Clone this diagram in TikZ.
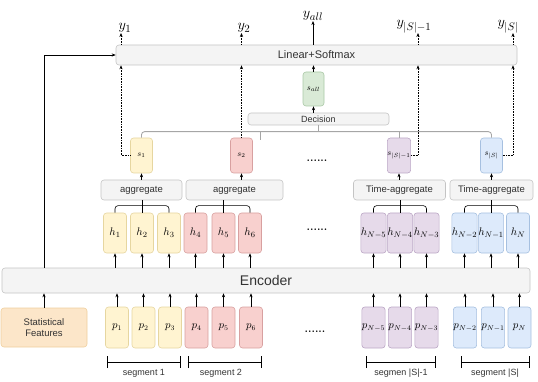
\documentclass[tikz,border=0pt]{standalone}
\usepackage{fontspec}
\setsansfont{Liberation Sans}
\usetikzlibrary{arrows.meta}
\definecolor{yelF}{HTML}{FFF4D1}\definecolor{yelD}{HTML}{E6D6A0}
\definecolor{pinkF}{HTML}{F8D0CE}\definecolor{pinkD}{HTML}{D8A0A0}
\definecolor{purF}{HTML}{E6DAEA}\definecolor{purD}{HTML}{BCA8C6}
\definecolor{bluF}{HTML}{DDEAFB}\definecolor{bluD}{HTML}{A6C0E0}
\definecolor{grnF}{HTML}{D9EAD6}\definecolor{grnD}{HTML}{AAC8A6}
\definecolor{gryF}{HTML}{F4F4F4}\definecolor{gryD}{HTML}{C4C4C4}
\definecolor{staF}{HTML}{FCE6C9}\definecolor{staD}{HTML}{EFCF9E}
\definecolor{txt}{HTML}{333333}
\begin{document}
\begin{tikzpicture}[x=1pt,y=-1pt,
  box/.style={draw, rounded corners=3pt, inner sep=0pt, line width=0.6pt},
  yel/.style={fill=yelF, draw=yelD},
  pink/.style={fill=pinkF, draw=pinkD},
  pur/.style={fill=purF, draw=purD},
  blu/.style={fill=bluF, draw=bluD},
  grn/.style={fill=grnF, draw=grnD},
  gbar/.style={box, fill=gryF, draw=gryD, text=txt, font=\sffamily},
  hb/.style={box, minimum width=23pt, minimum height=40pt, font=\fontsize{11}{12}\selectfont},
  pb/.style={box, minimum width=23pt, minimum height=41pt, font=\fontsize{10.5}{12}\selectfont},
  sb/.style={box, minimum width=22pt, minimum height=35pt, font=\fontsize{8}{9}\selectfont},
  arr/.style={-{Stealth[length=4pt,width=3.2pt]}, line width=0.6pt},
  darr/.style={arr, densely dotted},
  bus/.style={draw=gray!70, line width=0.9pt, rounded corners=3pt},
  lab/.style={inner sep=0pt, font=\fontsize{15}{17}\selectfont},
  seg/.style={{Bar[width=12pt]}-{Bar[width=12pt]}, line width=0.6pt},
  segl/.style={font=\sffamily\fontsize{9}{10}\selectfont, text=txt},
  dots/.style={font=\bfseries\fontsize{11}{12}\selectfont}
]
\useasboundingbox (0,0) rectangle (538,382);

% bars
\node[gbar, minimum width=401pt, minimum height=20pt, font=\sffamily\fontsize{11}{13}\selectfont] (lin) at (316.5,55) {Linear+Softmax};
\node[gbar, minimum width=528pt, minimum height=25pt, font=\sffamily\fontsize{14}{16}\selectfont] (enc) at (266,280.5) {Encoder};
\node[gbar, minimum width=141pt, minimum height=12pt, font=\sffamily\fontsize{9}{10}\selectfont] (dec) at (318.5,119) {Decision};
\node[gbar, minimum width=81pt, minimum height=20pt, font=\sffamily\fontsize{9.5}{10}\selectfont] (ag1) at (141.5,190) {aggregate};
\node[gbar, minimum width=97pt, minimum height=20pt, font=\sffamily\fontsize{9.5}{10}\selectfont] (ag2) at (234.5,190) {aggregate};
\node[gbar, minimum width=92pt, minimum height=20pt, font=\sffamily\fontsize{9.5}{10}\selectfont] (ag3) at (399.5,190) {Time-aggregate};
\node[gbar, minimum width=83pt, minimum height=20pt, font=\sffamily\fontsize{9.5}{10}\selectfont] (ag4) at (491.5,190) {Time-aggregate};

% statistical features
\node[box, fill=staF, draw=staD, minimum width=86pt, minimum height=39pt, align=center, text=txt, font=\sffamily\fontsize{9.5}{11.5}\selectfont] (sta) at (44,327.5) {Statistical\\Features};

% h boxes
\node[hb, yel] (h1) at (115,233) {$h_1$};
\node[hb, yel] (h2) at (142,233) {$h_2$};
\node[hb, yel] (h3) at (169,233) {$h_3$};
\node[hb, pink] (h4) at (195.5,233) {$h_4$};
\node[hb, pink] (h5) at (223.5,233) {$h_5$};
\node[hb, pink] (h6) at (250,233) {$h_6$};
\node[hb, pur] (h7) at (373.5,233) {$h_{N-5}$};
\node[hb, pur] (h8) at (400,233) {$h_{N-4}$};
\node[hb, pur] (h9) at (426.5,233) {$h_{N-3}$};
\node[hb, blu] (h10) at (464.5,233) {$h_{N-2}$};
\node[hb, blu] (h11) at (491,233) {$h_{N-1}$};
\node[hb, blu] (h12) at (518,233) {$h_N$};

% p boxes
\node[pb, yel] (p1) at (117,327.5) {$p_1$};
\node[pb, yel] (p2) at (143.5,327.5) {$p_2$};
\node[pb, yel] (p3) at (170,327.5) {$p_3$};
\node[pb, pink] (p4) at (196.5,327.5) {$p_4$};
\node[pb, pink] (p5) at (223.5,327.5) {$p_5$};
\node[pb, pink] (p6) at (251,327.5) {$p_6$};
\node[pb, pur] (p7) at (373.5,327.5) {$p_{N-5}$};
\node[pb, pur] (p8) at (400,327.5) {$p_{N-4}$};
\node[pb, pur] (p9) at (426.5,327.5) {$p_{N-3}$};
\node[pb, blu] (p10) at (465,327.5) {$p_{N-2}$};
\node[pb, blu] (p11) at (493,327.5) {$p_{N-1}$};
\node[pb, blu] (p12) at (519.5,327.5) {$p_N$};

% s boxes
\node[sb, yel] (s1) at (141.5,155.5) {$s_1$};
\node[sb, pink] (s2) at (241.5,155.5) {$s_2$};
\node[sb, pur] (s3) at (399,155.5) {$s_{|S|-1}$};
\node[sb, blu] (s4) at (491.5,155.5) {$s_{|S|}$};
\node[sb, grn, minimum height=34pt, minimum width=21pt] (sall) at (313.5,89) {$s_{all}$};

% dots
\node[dots] (d1) at (317,161) {......};
\node[dots] (d2) at (317,230) {......};
\node[dots] (d3) at (315,332) {......};

% outputs
\node[lab, anchor=south] (y1) at (125,33) {$y_1$};
\node[lab, anchor=south] (y2) at (244,33) {$y_2$};
\node[lab, anchor=south] (ya) at (313,21) {$y_{all}$};
\node[lab, anchor=south] (y3) at (414,33) {$y_{|S|-1}$};
\node[lab, anchor=south] (y4) at (508,33) {$y_{|S|}$};
\coordinate (x1) at (121,0);
\coordinate (x2) at (241.5,0);
\coordinate (x3) at (418,0);
\coordinate (x4) at (513,0);

\draw[darr] (x1 |- lin.north) -- (x1 |- y1.south);
\draw[darr] (x2 |- lin.north) -- (x2 |- y2.south);
\draw[arr] (ya.south |- lin.north) -- (ya.south);
\draw[darr] (x3 |- lin.north) -- (x3 |- y3.south);
\draw[darr] (x4 |- lin.north) -- (x4 |- y4.south);

% s to linear
\draw[darr] (s1.west) -| (x1 |- lin.south);
\draw[darr] (s2.north) -- (x2 |- lin.south);
\draw[darr] (s3.east) -| (x3 |- lin.south);
\draw[darr] (s4.east) -| (x4 |- lin.south);

% decision
\draw[bus] (s1.north) -- ++(0,-6) -| (s4.north);
\draw[bus] (s3.north) -- ++(0,-6);
\coordinate (tk) at (260,132);
\draw[bus] (tk) -- ++(0,8);
\draw[bus] (dec.south) -- (dec.south |- tk);
\draw[arr] (dec.north -| sall) -- (sall.south);
\draw[arr] (sall.north) -- (sall.north |- lin.south);

% stat to linear
\draw[arr] (sta.north |- enc.north) |- (lin.west);
\draw[arr] (sta.north) -- (sta.north |- enc.south);

% aggregate to s
\foreach \a/\s in {ag1/s1, ag2/s2, ag3/s3, ag4/s4}
  \draw[arr] (\a.north -| \s) -- (\s.south);

% braces
\foreach \a/\b/\c/\g in {h1/h2/h3/ag1, h4/h5/h6/ag2, h7/h8/h9/ag3, h10/h11/h12/ag4}{
  \draw[line width=0.6pt, rounded corners=3pt] (\a.north) -- ++(0,-7) -| (\c.north);
  \draw[line width=0.6pt] (\b.north) -- (\b.north |- \g.south);
}

% encoder to h, p to encoder
\foreach \i in {1,...,12}{
  \draw[arr] (h\i.south |- enc.north) -- (h\i.south);
  \draw[arr] (p\i.north) -- (p\i.north |- enc.south);
}

% segments
\coordinate (sa1) at (107,362); \coordinate (sb1) at (181,362);
\coordinate (sa2) at (188,362); \coordinate (sb2) at (262,362);
\coordinate (sa3) at (366,362); \coordinate (sb3) at (436,362);
\coordinate (sa4) at (461,362); \coordinate (sb4) at (530,362);
\draw[seg] (sa1) -- (sb1);
\draw[seg] (sa2) -- (sb2);
\draw[seg] (sa3) -- (sb3);
\draw[seg] (sa4) -- (sb4);
\node[segl] (l1) at (144,373) {segment 1};
\node[segl] (l2) at (221,373) {segment 2};
\node[segl] (l3) at (401,373) {segmen |S|-1};
\node[segl] (l4) at (495,373) {segment |S|};
\end{tikzpicture}
\end{document}
